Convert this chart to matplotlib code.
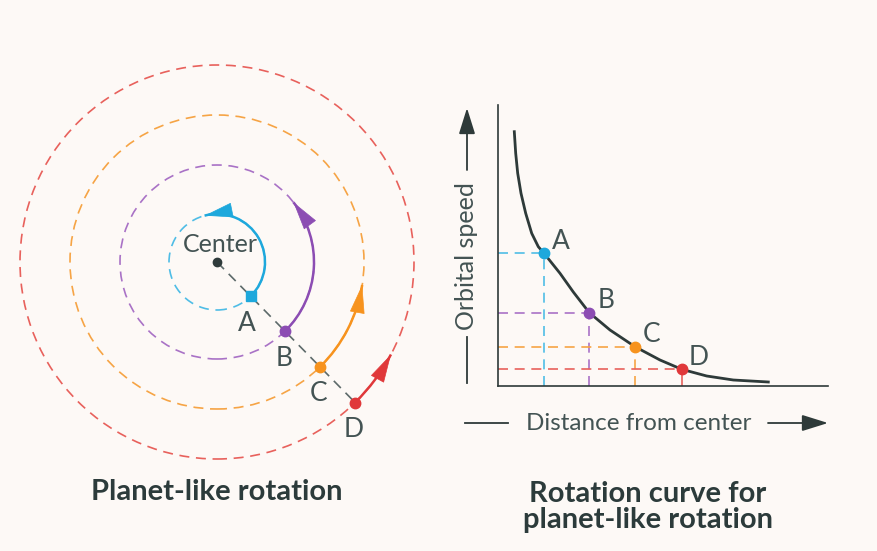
import numpy as np
import matplotlib.pyplot as plt
from matplotlib.patches import Circle, Arc, FancyArrowPatch

plt.rcParams['font.family'] = ['Lato', 'DejaVu Sans']

# left panel: orbits (radius in px units, angles in degrees)
labels = ['A', 'B', 'C', 'D']
orbit_radius = [48, 97, 147, 197]
arc_end_angle = [105, 38, -9, -28]
start_angle = -45.5
solid_colors = ['#1ea8dc', '#8c4db3', '#f7931e', '#e0383a']
dash_colors = ['#4fbde6', '#a972c6', '#f6a445', '#e8615c']

# right panel: rotation curve
curve_distance = [16.3, 17.7, 19.7, 23, 27.7, 33.7, 40.3, 46, 62, 75.3, 91.3, 112, 137,
                  162, 183.7, 208.7, 235.3, 270.3]
curve_speed = [254.3, 232.7, 212.7, 192.7, 172.7, 152.7, 139.3, 132.7, 112.7, 94, 73.3,
               56, 39.3, 26, 16.7, 10, 6, 4]
point_distance = [46, 91.3, 137, 183.7]
point_speed = [132.7, 73.3, 39.3, 16.7]

text_col = '#435353'
title_col = '#2c3b3b'
dark = '#2e3a39'
bg = '#fdf9f6'

fig = plt.figure(figsize=(8.77, 5.51), dpi=100, facecolor=bg)

# ---- left: planet-like rotation ----
ax1 = fig.add_axes([12/877, 84/551, 410/877, 410/551])
ax1.set_xlim(-205, 205)
ax1.set_ylim(-205, 205)
ax1.set_aspect('equal')
ax1.axis('off')

a0 = np.radians(start_angle)
for r, end, c, dc in zip(orbit_radius, arc_end_angle, solid_colors, dash_colors):
    ax1.add_patch(Circle((0, 0), r, fill=False, ec=dc, lw=1.2, ls=(0, (6, 4))))
    ax1.add_patch(Arc((0, 0), 2*r, 2*r, theta1=start_angle, theta2=end, color=c, lw=1.8))
    e = np.radians(end)
    e0 = e - 6.0/r
    ax1.add_patch(FancyArrowPatch((r*np.cos(e0), r*np.sin(e0)), (r*np.cos(e), r*np.sin(e)),
                                  arrowstyle='-|>,head_length=1.9,head_width=0.5',
                                  mutation_scale=10, color=c, lw=0.5, shrinkA=0, shrinkB=0))

xd, yd = orbit_radius[-1]*np.cos(a0), orbit_radius[-1]*np.sin(a0)
ax1.plot([0, xd], [0, yd], color='#5d6a6a', lw=1.2, ls=(0, (6, 4)))
ax1.plot(0, 0, 'o', color='#2f3b3b', ms=6)
ax1.text(3, 17, 'Center', ha='center', va='center', fontsize=18, color=text_col)

for i, (r, c, lab) in enumerate(zip(orbit_radius, solid_colors, labels)):
    x, y = r*np.cos(a0), r*np.sin(a0)
    ax1.plot(x, y, 's' if i == 0 else 'o', color=c, ms=7 if i == 0 else 7.5)
    ax1.text(x - (4 if i == 0 else 1), y - 27, lab, ha='center', va='center',
             fontsize=19, color=text_col)

fig.text(217/877, 1 - 492/551, 'Planet-like rotation', ha='center', va='center',
         fontsize=21, fontweight='bold', color=title_col)

# ---- right: rotation curve ----
ax2 = fig.add_axes([498/877, 165/551, 330/877, 281/551])
ax2.set_xlim(0, 330)
ax2.set_ylim(0, 281)
ax2.set_facecolor('none')
for s in ['top', 'right']:
    ax2.spines[s].set_visible(False)
for s in ['left', 'bottom']:
    ax2.spines[s].set_color(dark)
    ax2.spines[s].set_linewidth(1.2)
ax2.set_xticks([])
ax2.set_yticks([])

for i, (d, v, dc) in enumerate(zip(point_distance, point_speed, dash_colors)):
    ax2.plot([0, d], [v, v], color=dc, lw=1.2, ls=(0, (6, 4)))
    ax2.plot([d, d], [0, v], color=dc, lw=1.2, ls='-' if i == 3 else (0, (6, 4)))

ax2.plot(curve_distance, curve_speed, color=dark, lw=2, solid_joinstyle='round')
for d, v, c, lab in zip(point_distance, point_speed, solid_colors, labels):
    ax2.plot(d, v, 'o', color=c, ms=7.5, zorder=5)
    ax2.text(d + 17, v + 12, lab, ha='center', va='center', fontsize=19, color=text_col)

# axis captions with arrows
ax2.text(-31, 130, 'Orbital speed', rotation=90, ha='center', va='center',
         fontsize=18, color=text_col)
ax2.plot([-31, -31], [3, 49], color=dark, lw=1.3, clip_on=False)
ax2.annotate('', xy=(-31, 278), xytext=(-31, 216), xycoords='data',
             arrowprops=dict(arrowstyle='-|>,head_length=1.6,head_width=0.5',
                             mutation_scale=10, color=dark, lw=1.3,
                             shrinkA=0, shrinkB=0), annotation_clip=False)
ax2.text(140.5, -38, 'Distance from center', ha='center', va='center',
         fontsize=17.5, color=text_col)
ax2.plot([-33, 10], [-37, -37], color=dark, lw=1.3, clip_on=False)
ax2.annotate('', xy=(330, -37), xytext=(270, -37), xycoords='data',
             arrowprops=dict(arrowstyle='-|>,head_length=1.6,head_width=0.5',
                             mutation_scale=10, color=dark, lw=1.3,
                             shrinkA=0, shrinkB=0), annotation_clip=False)

fig.text(648/877, 1 - 507/551, 'Rotation curve for\nplanet-like rotation', ha='center',
         va='center', fontsize=21, fontweight='bold', color=title_col, linespacing=1.0)

fig.savefig('out.png', dpi=100, facecolor=bg)
